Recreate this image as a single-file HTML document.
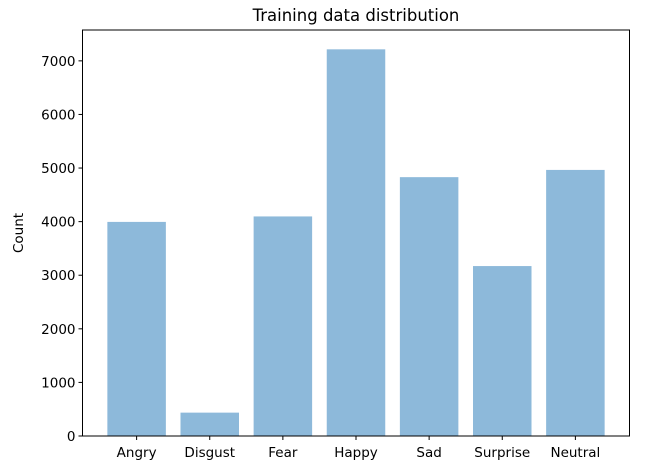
<!DOCTYPE html>
<html><head><meta charset="utf-8"><style>
body{margin:0;background:#fff;}
svg{display:block;font-family:"DejaVu Sans","Liberation Sans",sans-serif;}
</style></head><body>
<svg id="chart" width="646" height="466">
<text x="356" y="21" font-size="16.5" text-anchor="middle" fill="#000">Training data distribution</text>
<text transform="translate(23,233) rotate(-90)" font-size="13.5" text-anchor="middle" fill="#000">Count</text>
<g id="bars"></g><g id="axes"></g>
</svg>
<script>
const categories=["Angry","Disgust","Fear","Happy","Sad","Surprise","Neutral"];
const counts=[3995,436,4097,7215,4830,3171,4965];
const yTicks=[0,1000,2000,3000,4000,5000,6000,7000];
const L=82.5,R=629.5,T=30,B=436;
const ymax=Math.max(...counts)*1.05;
const xmin=-0.74,xmax=categories.length-1+0.74;
const xs=i=>L+(i-xmin)/(xmax-xmin)*(R-L);
const ys=v=>B-v/ymax*(B-T);
const ns="http://www.w3.org/2000/svg";
const bars=document.getElementById('bars'),axes=document.getElementById('axes');
function mk(tag,attrs,parent){const e=document.createElementNS(ns,tag);for(const k in attrs)e.setAttribute(k,attrs[k]);parent.appendChild(e);return e;}
const bw=xs(0.4)-xs(-0.4);
categories.forEach((c,i)=>{
 const r=mk('rect',{x:xs(i)-bw/2,y:ys(counts[i]),width:bw,height:B-ys(counts[i]),fill:'#8db9da'},bars);
 
 
 const t=mk('line',{x1:xs(i),x2:xs(i),y1:B,y2:B+4,stroke:'#000','stroke-width':1},axes);
 
 
 const l=mk('text',{x:xs(i),y:B+21,'font-size':'13.5','text-anchor':'middle',fill:'#000'},axes);
 l.textContent=c;
 
 
});
yTicks.forEach(v=>{
 const t=mk('line',{x1:L-4,x2:L,y1:ys(v),y2:ys(v),stroke:'#000','stroke-width':1},axes);
 
 
 const l=mk('text',{x:L-7,y:ys(v)+5,'font-size':'13.5','text-anchor':'end',fill:'#000'},axes);
 l.textContent=v;
 
 
});
const f=mk('rect',{x:L,y:T,width:R-L,height:B-T,fill:'none',stroke:'#000','stroke-width':1},axes);


</script>
</body></html>
